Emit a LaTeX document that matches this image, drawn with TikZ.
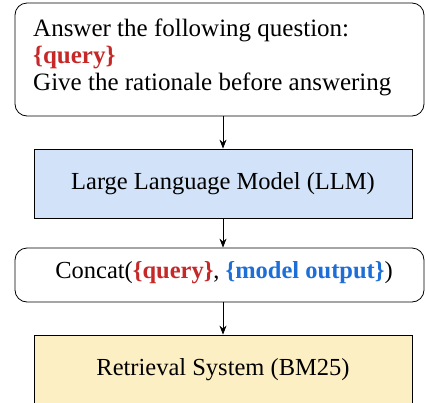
\documentclass[tikz,border=0pt]{standalone}
\usepackage{fontspec}
\setmainfont{Liberation Serif}
\usetikzlibrary{positioning,arrows.meta}

\definecolor{qred}{RGB}{198,40,40}
\definecolor{qblue}{RGB}{30,110,215}
\definecolor{llmfill}{RGB}{210,226,248}
\definecolor{retfill}{RGB}{253,239,196}

\tikzset{
  promptbox/.style={draw,rounded corners=12pt,thick,align=left,inner sep=0pt},
  modelbox/.style={draw,thick,minimum width=378pt,minimum height=69pt,font=\fontsize{24.5}{27}\selectfont},
  flow/.style={thick,-{Stealth[length=9pt,width=7pt]}}
}

\begin{document}
\begin{tikzpicture}[x=1pt,y=-1pt]
\useasboundingbox (0,0) rectangle (425,402);
% prompt
\node[promptbox,minimum width=409pt,minimum height=113pt] (prompt) at (219.5,59.5) {};
\node[anchor=west,align=left,inner sep=0pt,font=\fontsize{25}{27}\selectfont] (prompttext) at (33,57)
  {Answer the following question:\\
   \textcolor{qred}{\textbf{\{query\}}}\\
   Give the rationale before answering};
\node[modelbox,fill=llmfill] (llm) at (223,183.5) {Large Language Model (LLM)};
\node[promptbox,minimum width=409pt,minimum height=54pt] (concat) at (219.5,275) {};
\node[font=\fontsize{24.5}{27}\selectfont,inner sep=0pt] (concattext) at (224,273)
  {Concat(\textcolor{qred}{\textbf{\{query\}}}, \textcolor{qblue}{\textbf{\{model output\}}})};
\node[modelbox,fill=retfill] (ret) at (223,369.5) {Retrieval System (BM25)};

\draw[flow] (prompt.south -| llm.north) -- (llm.north);
\draw[flow] (llm.south) -- (concat.north -| llm.south);
\draw[flow] (concat.south -| ret.north) -- (ret.north);
\end{tikzpicture}
\end{document}
